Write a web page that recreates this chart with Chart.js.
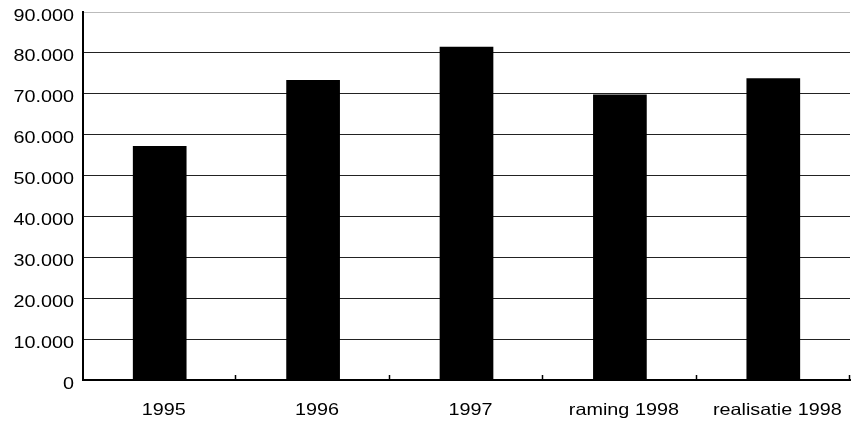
<!DOCTYPE html>
<html>
<head>
<meta charset="utf-8">
<script src="https://cdn.jsdelivr.net/npm/chart.js@4/dist/chart.umd.min.js"></script>
<style>
  html, body { margin: 0; padding: 0; background: #fff; }
  #wrap { width: 861px; height: 428px; position: relative; }
</style>
</head>
<body>
<div id="wrap"><canvas id="c" width="861" height="428"></canvas></div>
<script>
const categories = ['1995', '1996', '1997', 'raming 1998', 'realisatie 1998'];
const values = [57200, 73400, 81500, 69800, 73800];
const yMin = 0;
const yMax = 90000;
const yStep = 10000;

function fmt(v) {
  if (v === 0) return '0';
  const s = String(Math.round(v));
  return s.replace(/\B(?=(\d{3})+(?!\d))/g, '.');
}

// Render text slightly widened, like the reference's stretched Helvetica.
const TEXT_STRETCH = 1.2;
const stretchPlugin = {
  id: 'stretch',
  beforeInit(chart) {
    const ctx = chart.ctx;
    const orig = ctx.fillText.bind(ctx);
    ctx.fillText = function (t, x, y, mw) {
      this.save();
      this.translate(x, y);
      this.scale(TEXT_STRETCH, 1);
      if (mw !== undefined) orig(t, 0, 0, mw); else orig(t, 0, 0);
      this.restore();
    };
  }
};

const innerTicks = {
  id: 'innerTicks',
  afterDatasetsDraw(chart) {
    const x = chart.scales.x;
    const ctx = chart.ctx;
    const n = chart.data.labels.length;
    const half = (x.getPixelForValue(1) - x.getPixelForValue(0)) / 2;
    ctx.save();
    ctx.strokeStyle = '#000';
    ctx.lineWidth = 1.5;
    ctx.beginPath();
    for (let i = 0; i < n; i++) {
      const px = Math.round(x.getPixelForValue(i) + half) - 0.5;
      ctx.moveTo(px, x.top);
      ctx.lineTo(px, x.top - 5);
    }
    ctx.stroke();
    ctx.restore();
  }
};

new Chart(document.getElementById('c'), {
  type: 'bar',
  data: {
    labels: categories,
    datasets: [{
      data: values,
      backgroundColor: '#000',
      borderWidth: 0,
      categoryPercentage: 1.0,
      barPercentage: 0.35
    }]
  },
  options: {
    responsive: false,
    animation: false,
    devicePixelRatio: 1,
    layout: { padding: { top: 12, right: 11, left: 0, bottom: 0 } },
    plugins: {
      legend: { display: false },
      tooltip: { enabled: false }
    },
    scales: {
      x: {
        grid: { display: false, drawTicks: false },
        border: { display: true, color: '#000', width: 2 },
        ticks: {
          color: '#000',
          padding: 21,
          labelOffset: 4,
          maxRotation: 0,
          autoSkip: false,
          font: { family: '"Liberation Sans", Arial, Helvetica, sans-serif', size: 16.5 }
        },
        afterFit(scale) {
          scale.height = 48;
          scale.paddingLeft = 0; scale.paddingRight = 0;
          scale.paddingTop = 0; scale.paddingBottom = 0;
        }
      },
      y: {
        min: yMin,
        max: yMax,
        grid: {
          drawTicks: false,
          color: (ctx) => (ctx.tick && ctx.tick.value === yMax) ? '#bbbbbb' : '#222',
          lineWidth: 1
        },
        border: { display: true, color: '#000', width: 2 },
        ticks: {
          stepSize: yStep,
          color: '#000',
          padding: 9,
          labelOffset: 4,
          callback: (v) => fmt(v),
          font: { family: '"Liberation Sans", Arial, Helvetica, sans-serif', size: 16.5 }
        },
        afterFit(scale) {
          scale.width = 83;
          scale.paddingTop = 0; scale.paddingBottom = 0;
          scale.paddingLeft = 0; scale.paddingRight = 0;
        }
      }
    }
  },
  plugins: [stretchPlugin, innerTicks]
});
</script>
</body>
</html>
